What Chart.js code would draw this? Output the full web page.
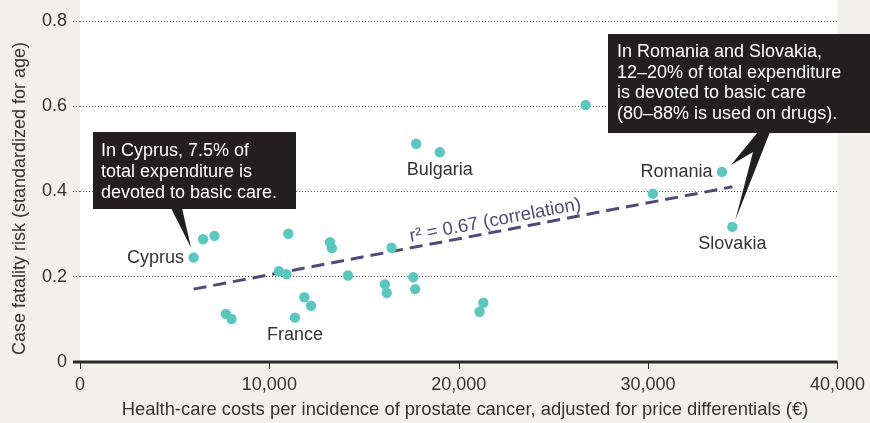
<!DOCTYPE html>
<html><head><meta charset="utf-8">
<script src="https://cdn.jsdelivr.net/npm/chart.js@4"></script>
<style>html,body{margin:0;padding:0;background:#f1f0ea}canvas{display:block}</style>
</head><body>
<canvas id="c" width="870" height="423"></canvas>
<script>
// ---- data ----
const costs = [6000, 6500, 7100, 7700, 8000, 10500, 10900, 11000, 11350, 11850, 12200, 13200, 13300, 14150, 16100, 16200, 16450, 17600, 17700, 17750, 19000, 21100, 21300, 26700, 30250, 33900, 34450];
const risk  = [0.245, 0.288, 0.296, 0.113, 0.101, 0.213, 0.206, 0.301, 0.104, 0.152, 0.132, 0.281, 0.267, 0.203, 0.182, 0.162, 0.268, 0.199, 0.171, 0.512, 0.492, 0.118, 0.139, 0.603, 0.395, 0.446, 0.317];
const labeledCountries = ['Cyprus', 'France', 'Bulgaria', 'Romania', 'Slovakia'];
const labeledIndex = [0, 8, 20, 25, 26];
const labelSide = ['left', 'below', 'below', 'left', 'below'];
const trendCosts = [6000, 34450];
const trendRisk = [0.171, 0.411];
const trendLabel = 'r\u00B2 = 0.67 (correlation)';
const xTicks = [0, 10000, 20000, 30000, 40000];
const yTicks = [0, 0.2, 0.4, 0.6, 0.8];
const xTitle = 'Health-care costs per incidence of prostate cancer, adjusted for price differentials (\u20AC)';
const yTitle = 'Case fatality risk (standardized for age)';
const cyprusNote = ['In Cyprus, 7.5% of', 'total expenditure is', 'devoted to basic care.'];
const romSlovNote = ['In Romania and Slovakia,', '12\u201320% of total expenditure', 'is devoted to basic care', '(80\u201388% is used on drugs).'];

const FONT = '"Liberation Sans", Arial, sans-serif';
const TEXT = '#333333';
const AXIS = '#2a2a2a';
const AREA = { left: 80, right: 840, top: 21, bottom: 362 };

const bgPlugin = {
  id: 'bg',
  beforeDraw(chart) {
    const { ctx, chartArea: a } = chart;
    ctx.save();
    ctx.fillStyle = '#f1f0ea';
    ctx.fillRect(0, 0, chart.width, chart.height);
    ctx.fillStyle = '#ffffff';
    ctx.fillRect(a.left, 0, a.right - a.left, a.bottom);
    ctx.restore();
  }
};

const notePlugin = {
  id: 'notes',
  afterDraw(chart) {
    const ctx = chart.ctx, xs = chart.scales.x, ys = chart.scales.y;
    const a = chart.chartArea;
    const px = i => [xs.getPixelForValue(costs[i]), ys.getPixelForValue(risk[i])];
    ctx.save();
    // zero axis line and x tick marks
    const y0 = ys.getPixelForValue(0);
    ctx.strokeStyle = AXIS;
    ctx.lineWidth = 3;
    ctx.setLineDash([]);
    ctx.beginPath();
    ctx.moveTo(a.left - 7, y0);
    ctx.lineTo(a.right, y0);
    ctx.stroke();
    ctx.lineWidth = 1;
    xTicks.forEach(v => {
      const x = Math.round(xs.getPixelForValue(v)) + 0.5;
      ctx.beginPath();
      ctx.moveTo(x, y0);
      ctx.lineTo(x, y0 + 7);
      ctx.stroke();
    });

    // axis titles
    ctx.font = '18.4px ' + FONT;
    ctx.fillStyle = TEXT;
    ctx.textAlign = 'center';
    ctx.textBaseline = 'middle';
    ctx.fillText(xTitle, 465, 410);
    ctx.save();
    ctx.translate(20, 198.5);
    ctx.rotate(-Math.PI / 2);
    ctx.font = '18px ' + FONT;
    ctx.fillText(yTitle, 0, 0);
    ctx.restore();

    // country labels
    ctx.font = '18px ' + FONT;
    ctx.fillStyle = TEXT;
    ctx.textBaseline = 'middle';
    labeledCountries.forEach((name, k) => {
      const [x, y] = px(labeledIndex[k]);
      if (labelSide[k] === 'left') {
        ctx.textAlign = 'right';
        ctx.fillText(name, x - 9.5, y + 0.5);
      } else {
        ctx.textAlign = 'center';
        ctx.fillText(name, x, y + 17.5);
      }
    });
    // trend label
    const x1 = xs.getPixelForValue(trendCosts[0]), y1 = ys.getPixelForValue(trendRisk[0]);
    const x2 = xs.getPixelForValue(trendCosts[1]), y2 = ys.getPixelForValue(trendRisk[1]);
    const ang = Math.atan2(y2 - y1, x2 - x1);
    const t = 0.405;
    ctx.save();
    ctx.translate(x1 + (x2 - x1) * t, y1 + (y2 - y1) * t);
    ctx.rotate(ang);
    ctx.font = '18.6px ' + FONT;
    ctx.fillStyle = '#4f4a7a';
    ctx.textAlign = 'left';
    ctx.textBaseline = 'alphabetic';
    ctx.fillText(trendLabel, 0, -6);
    ctx.restore();

    // Cyprus box
    const box = '#231f20';
    ctx.fillStyle = box;
    ctx.fillRect(93, 132, 203, 77);
    const [cx, cy] = px(0);
    ctx.beginPath();
    ctx.moveTo(171, 208);
    ctx.lineTo(cx - 2.5, cy - 9.5);
    ctx.lineTo(182, 208);
    ctx.closePath();
    ctx.fill();
    // Romania/Slovakia box
    ctx.fillRect(608, 34, 262, 99);
    const [rx, ry] = px(25);
    const [sx, sy] = px(26);
    ctx.beginPath();
    ctx.moveTo(758, 132);
    ctx.lineTo(rx + 9, ry - 7);
    ctx.lineTo(753, 152);
    ctx.lineTo(sx + 3, sy - 7);
    ctx.lineTo(770, 132);
    ctx.closePath();
    ctx.fill();

    ctx.fillStyle = '#ffffff';
    ctx.textAlign = 'left';
    ctx.textBaseline = 'alphabetic';
    ctx.font = '18px ' + FONT;
    cyprusNote.forEach((l, i) => ctx.fillText(l, 101, 156 + i * 21));
    romSlovNote.forEach((l, i) => ctx.fillText(l, 617, 57 + i * 20.7));
    ctx.restore();
  }
};

const isZero = c => c.tick && c.tick.value === 0;
const dotted = c => isZero(c) ? [] : [1, 2];

const chart = new Chart(document.getElementById('c'), {
  type: 'scatter',
  data: {
    datasets: [
      {
        type: 'scatter',
        data: costs.map((x, i) => ({ x, y: risk[i] })),
        backgroundColor: '#5cc7bf',
        borderWidth: 0,
        pointRadius: 5.2,
        order: 0
      },
      {
        type: 'line',
        data: trendCosts.map((x, i) => ({ x, y: trendRisk[i] })),
        borderColor: '#4f4a7a',
        borderWidth: 3,
        borderDash: [13, 7],
        pointRadius: 0,
        fill: false,
        order: 1
      }
    ]
  },
  options: {
    responsive: false,
    animation: false,
    events: [],
    layout: { padding: { top: 21, right: 30, left: 0, bottom: 0 } },
    plugins: { legend: { display: false }, tooltip: { enabled: false } },
    scales: {
      x: {
        type: 'linear', min: 0, max: 40000,
        afterBuildTicks: s => { s.ticks = xTicks.map(v => ({ value: v })); },
        afterFit: s => { s.height = 61; },
        grid: { display: false, drawOnChartArea: false, drawTicks: true, tickLength: 7 },
        border: { display: false },
        ticks: {
          color: TEXT, font: { family: FONT, size: 18 }, padding: 5,
          maxRotation: 0, autoSkip: false,
          callback: v => v.toLocaleString('en-US')
        },
        title: { display: false }
      },
      y: {
        type: 'linear', min: 0, max: 0.8,
        afterBuildTicks: s => { s.ticks = yTicks.map(v => ({ value: v })); },
        afterFit: s => { s.width = 80; },
        grid: {
          display: true, drawOnChartArea: true, drawTicks: true, tickLength: 7,
          color: c => isZero(c) ? 'rgba(0,0,0,0)' : '#555',
          lineWidth: 1,
          tickColor: c => isZero(c) ? 'rgba(0,0,0,0)' : '#555',
          tickWidth: 1,
          borderDash: dotted,
          tickBorderDash: dotted
        },
        border: { display: false, dash: dotted },
        ticks: {
          color: TEXT, font: { family: FONT, size: 18 }, padding: 6,
          callback: v => String(v)
        },
        title: { display: false }
      }
    }
  }
  ,
  plugins: [bgPlugin, notePlugin]
});

// nudge layout padding so the plot area lands where the reference has it
for (let k = 0; k < 3; k++) {
  const a = chart.chartArea, p = chart.options.layout.padding;
  const dr = a.right - AREA.right, dl = a.left - AREA.left, dt = a.top - AREA.top, db = a.bottom - AREA.bottom;
  if (!dr && !dl && !dt && !db) break;
  p.right += dr; p.left -= dl; p.top -= dt; p.bottom += db;
  chart.update();
}
</script>
</body></html>
